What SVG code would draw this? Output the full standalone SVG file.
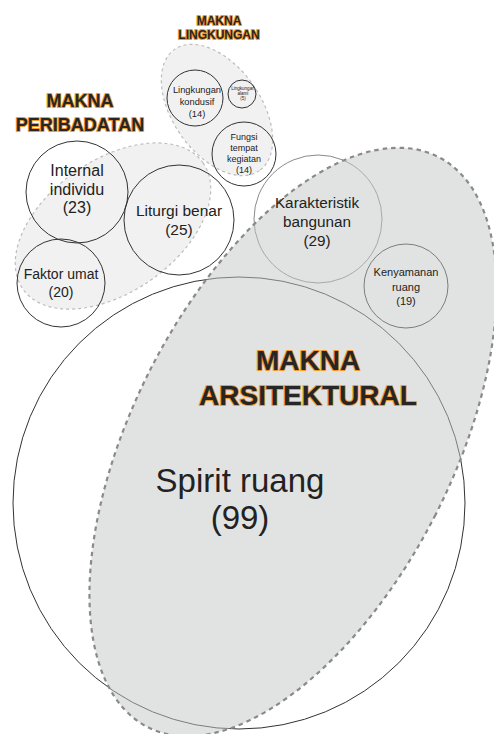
<svg xmlns="http://www.w3.org/2000/svg" width="494" height="734" viewBox="0 0 494 734">
<style>
.zone-light{fill:#f1f1f1;stroke:#bdbdbd;stroke-width:1.2;stroke-dasharray:3 3}
.zone-arch{fill:#c4c7c7;fill-opacity:0.5;stroke:#8a8a8a;stroke-width:2.2;stroke-dasharray:4.5 4}
.node{fill:none;stroke:#333;stroke-width:1}
.node-light{fill:none;stroke:#8a8a8a;stroke-width:1}
.lbl{font-family:"Liberation Sans",Arial,sans-serif;fill:#222;text-anchor:middle}
.head{font-family:"Liberation Sans",Arial,sans-serif;font-weight:bold;fill:#262626;stroke:#f39a2b;stroke-width:2;paint-order:stroke;stroke-linejoin:round;text-anchor:middle}
</style>
<rect width="494" height="734" fill="#ffffff"/>
<g id="zone-peribadatan">
<ellipse class="zone-light" cx="113" cy="226" rx="110" ry="66" transform="rotate(-35 113 226)"/>
</g>
<g id="zone-lingkungan">
<ellipse class="zone-light" cx="217" cy="110" rx="74" ry="44" transform="rotate(55 217 110)"/>
</g>
<g id="node-spirit-ruang">
<circle class="node" cx="239" cy="503" r="226"/>
</g>
<g id="node-internal-individu">
<circle class="node" cx="77" cy="192" r="51"/>
</g>
<g id="node-liturgi-benar">
<circle class="node" cx="179" cy="220" r="55"/>
</g>
<g id="node-faktor-umat">
<circle class="node" cx="61" cy="283" r="44"/>
</g>
<g id="node-lingkungan-kondusif">
<circle class="node" cx="195" cy="98" r="28"/>
</g>
<g id="node-lingkungan-kecil">
<circle class="node" cx="242" cy="94" r="14"/>
</g>
<g id="node-fungsi-tempat">
<circle class="node" cx="244" cy="154" r="32"/>
</g>
<g id="node-karakteristik">
<circle class="node-light" cx="318" cy="219" r="64"/>
</g>
<g id="node-kenyamanan">
<circle class="node" cx="406" cy="286" r="42"/>
</g>
<g id="zone-arsitektural">
<ellipse class="zone-arch" cx="293" cy="442" rx="160" ry="320" transform="rotate(27 293 442)"/>
</g>
<g id="connectors"></g>
<g id="labels">
<text class="head" x="80" y="107" font-size="18">MAKNA</text>
<text class="head" x="80" y="131" font-size="18">PERIBADATAN</text>
<text class="head" x="219" y="25" font-size="12" stroke-width="1.6">MAKNA</text>
<text class="head" x="219" y="39" font-size="12" stroke-width="1.6">LINGKUNGAN</text>
<text class="head" x="308" y="370" font-size="28" stroke-width="2.4">MAKNA</text>
<text class="head" x="308" y="405" font-size="28" stroke-width="2.4">ARSITEKTURAL</text>
<text class="lbl" font-size="16"><tspan x="77" y="176">Internal</tspan><tspan x="77" y="195">individu</tspan><tspan x="77" y="213">(23)</tspan></text>
<text class="lbl" font-size="15.5"><tspan x="179" y="216">Liturgi benar</tspan><tspan x="179" y="235">(25)</tspan></text>
<text class="lbl" font-size="14"><tspan x="61" y="279">Faktor umat</tspan><tspan x="61" y="297">(20)</tspan></text>
<text class="lbl" font-size="15.3"><tspan x="317" y="208">Karakteristik</tspan><tspan x="317" y="227">bangunan</tspan><tspan x="317" y="246">(29)</tspan></text>
<text class="lbl" font-size="11"><tspan x="406" y="276">Kenyamanan</tspan><tspan x="406" y="291">ruang</tspan><tspan x="406" y="305">(19)</tspan></text>
<text class="lbl" font-size="9.3"><tspan x="197" y="93">Lingkungan</tspan><tspan x="197" y="105">kondusif</tspan><tspan x="197" y="117">(14)</tspan></text>
<text class="lbl" font-size="4.5"><tspan x="243" y="90">Lingkungan</tspan><tspan x="243" y="95">alami</tspan><tspan x="243" y="100">(5)</tspan></text>
<text class="lbl" font-size="9"><tspan x="244" y="140">Fungsi</tspan><tspan x="244" y="151">tempat</tspan><tspan x="244" y="162">kegiatan</tspan><tspan x="244" y="173">(14)</tspan></text>
<text class="lbl" font-size="33"><tspan x="240" y="492">Spirit ruang</tspan><tspan x="240" y="529">(99)</tspan></text>
</g>
</svg>
